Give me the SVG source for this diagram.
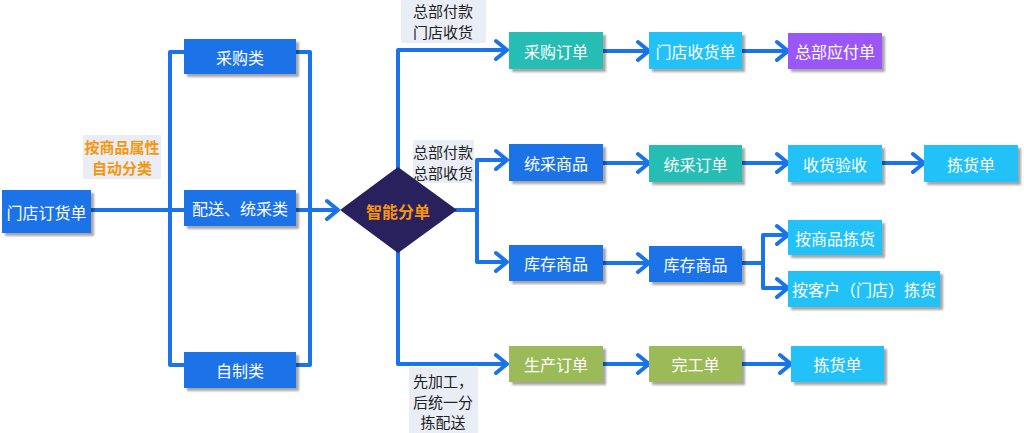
<svg xmlns="http://www.w3.org/2000/svg" width="1024" height="433" viewBox="0 0 1024 433">
<style>
.box{stroke:none}
.t{font-family:"Noto Sans CJK SC","Noto Sans",sans-serif;font-size:16px;fill:#ffffff;text-anchor:middle;dominant-baseline:central}
.lt{font-family:"Noto Sans CJK SC","Noto Sans",sans-serif;font-size:15px;fill:#222222;text-anchor:middle}
.ot{font-family:"Noto Sans CJK SC","Noto Sans",sans-serif;font-size:15px;font-weight:bold;fill:#f7960c;text-anchor:middle}
.lbg{fill:#e9edf5}
.ln{fill:none;stroke:#1a73e8;stroke-width:4;stroke-linejoin:round}
.blue{fill:#1a73e8}
.teal{fill:#26bdb5}
.sky{fill:#22c2f8}
.purple{fill:#9b56f7}
.green{fill:#9bbb59}
</style>
<defs>
<filter id="sh" x="-10%" y="-20%" width="130%" height="160%">
<feDropShadow dx="3" dy="3" stdDeviation="1.2" flood-color="#000" flood-opacity="0.35"/>
</filter>
<marker id="ar" viewBox="-14 -12 16 24" markerWidth="16" markerHeight="24" refX="0" refY="0" markerUnits="userSpaceOnUse" orient="auto">
<path d="M-11,-9 L0,0 L-11,9" fill="none" stroke="#1a73e8" stroke-width="4" stroke-linecap="round" stroke-linejoin="round"/>
</marker>
</defs>
<rect width="1024" height="433" fill="#ffffff"/>

<g id="labels">
<rect class="lbg" x="83" y="135" width="78" height="44"/>
<text class="ot" x="122" y="153">按商品属性</text>
<text class="ot" x="122" y="174">自动分类</text>
<rect class="lbg" x="401" y="0" width="85" height="43"/>
<text class="lt" x="443" y="17">总部付款</text>
<text class="lt" x="443" y="38">门店收货</text>
<rect class="lbg" x="413" y="140" width="61" height="43"/>
<text class="lt" x="443" y="158">总部付款</text>
<text class="lt" x="443" y="179">总部收货</text>
<rect class="lbg" x="409" y="367" width="69" height="66"/>
<text class="lt" x="443" y="387">先加工，</text>
<text class="lt" x="443" y="408">后统一分</text>
<text class="lt" x="443" y="428">拣配送</text>
</g>

<g id="connectors">
<path class="ln" d="M91,210 H184"/>
<path class="ln" d="M184,52 H170 V365 H184"/>
<path class="ln" d="M296,52 H310 V365 H296"/>
<path class="ln" d="M296,210 H338" marker-end="url(#ar)"/>
<path class="ln" d="M398,170 V50 H507" marker-end="url(#ar)"/>
<path class="ln" d="M455,210 H477 V160 H507" marker-end="url(#ar)"/>
<path class="ln" d="M477,208 V262 H507" marker-end="url(#ar)"/>
<path class="ln" d="M398,250 V364 H507" marker-end="url(#ar)"/>
<path class="ln" d="M603,51 H649" marker-end="url(#ar)"/>
<path class="ln" d="M742,51 H788" marker-end="url(#ar)"/>
<path class="ln" d="M603,163 H649" marker-end="url(#ar)"/>
<path class="ln" d="M742,163 H788" marker-end="url(#ar)"/>
<path class="ln" d="M882,163 H924" marker-end="url(#ar)"/>
<path class="ln" d="M603,263 H649" marker-end="url(#ar)"/>
<path class="ln" d="M742,263 H763 V235 H788" marker-end="url(#ar)"/>
<path class="ln" d="M763,261 V288 H788" marker-end="url(#ar)"/>
<path class="ln" d="M603,364 H649" marker-end="url(#ar)"/>
<path class="ln" d="M742,364 H791" marker-end="url(#ar)"/>
</g>

<g id="n_mdddd"><rect class="box blue" filter="url(#sh)" x="2" y="190" width="89" height="43"/><text class="t" x="46.5" y="211.5">门店订货单</text></g>
<g id="n_cgl"><rect class="box blue" filter="url(#sh)" x="184" y="39" width="112" height="35"/><text class="t" x="240" y="56.5">采购类</text></g>
<g id="n_pstcl"><rect class="box blue" filter="url(#sh)" x="184" y="190" width="112" height="36"/><text class="t" x="240" y="208">配送、统采类</text></g>
<g id="n_zzl"><rect class="box blue" filter="url(#sh)" x="184" y="352" width="112" height="36"/><text class="t" x="240" y="370">自制类</text></g>

<g id="n_znfd"><polygon points="340,210 398,167 457,210 398,253" fill="#29215e"/><text class="t" x="398" y="211" style="fill:#f7960c;font-weight:bold">智能分单</text></g>

<g id="n_cgdd"><rect class="box teal" filter="url(#sh)" x="509" y="32" width="94" height="37"/><text class="t" x="556" y="50.5">采购订单</text></g>
<g id="n_mdshd"><rect class="box sky" filter="url(#sh)" x="649" y="32" width="93" height="37"/><text class="t" x="695.5" y="50.5">门店收货单</text></g>
<g id="n_zbyfd"><rect class="box purple" filter="url(#sh)" x="788" y="33" width="94" height="36"/><text class="t" x="835" y="51">总部应付单</text></g>

<g id="n_tcsp"><rect class="box blue" filter="url(#sh)" x="509" y="144" width="94" height="37"/><text class="t" x="556" y="162.5">统采商品</text></g>
<g id="n_tcdd"><rect class="box teal" filter="url(#sh)" x="649" y="145" width="93" height="37"/><text class="t" x="695.5" y="163.5">统采订单</text></g>
<g id="n_shys"><rect class="box sky" filter="url(#sh)" x="788" y="145" width="94" height="37"/><text class="t" x="835" y="163.5">收货验收</text></g>
<g id="n_jhd1"><rect class="box sky" filter="url(#sh)" x="924" y="145" width="94" height="37"/><text class="t" x="971" y="163.5">拣货单</text></g>

<g id="n_kcsp1"><rect class="box blue" filter="url(#sh)" x="509" y="245" width="94" height="36"/><text class="t" x="556" y="263">库存商品</text></g>
<g id="n_kcsp2"><rect class="box blue" filter="url(#sh)" x="649" y="246" width="93" height="36"/><text class="t" x="695.5" y="264">库存商品</text></g>
<g id="n_asp"><rect class="box sky" filter="url(#sh)" x="788" y="220" width="94" height="35"/><text class="t" x="835" y="237.5">按商品拣货</text></g>
<g id="n_akh"><rect class="box sky" filter="url(#sh)" x="788" y="271" width="152" height="36"/><text class="t" x="864" y="289">按客户（门店）拣货</text></g>

<g id="n_scdd"><rect class="box green" filter="url(#sh)" x="509" y="346" width="94" height="36"/><text class="t" x="556" y="364">生产订单</text></g>
<g id="n_wgd"><rect class="box green" filter="url(#sh)" x="649" y="346" width="93" height="36"/><text class="t" x="695.5" y="364">完工单</text></g>
<g id="n_jhd2"><rect class="box sky" filter="url(#sh)" x="791" y="346" width="93" height="36"/><text class="t" x="837.5" y="364">拣货单</text></g>
</svg>
